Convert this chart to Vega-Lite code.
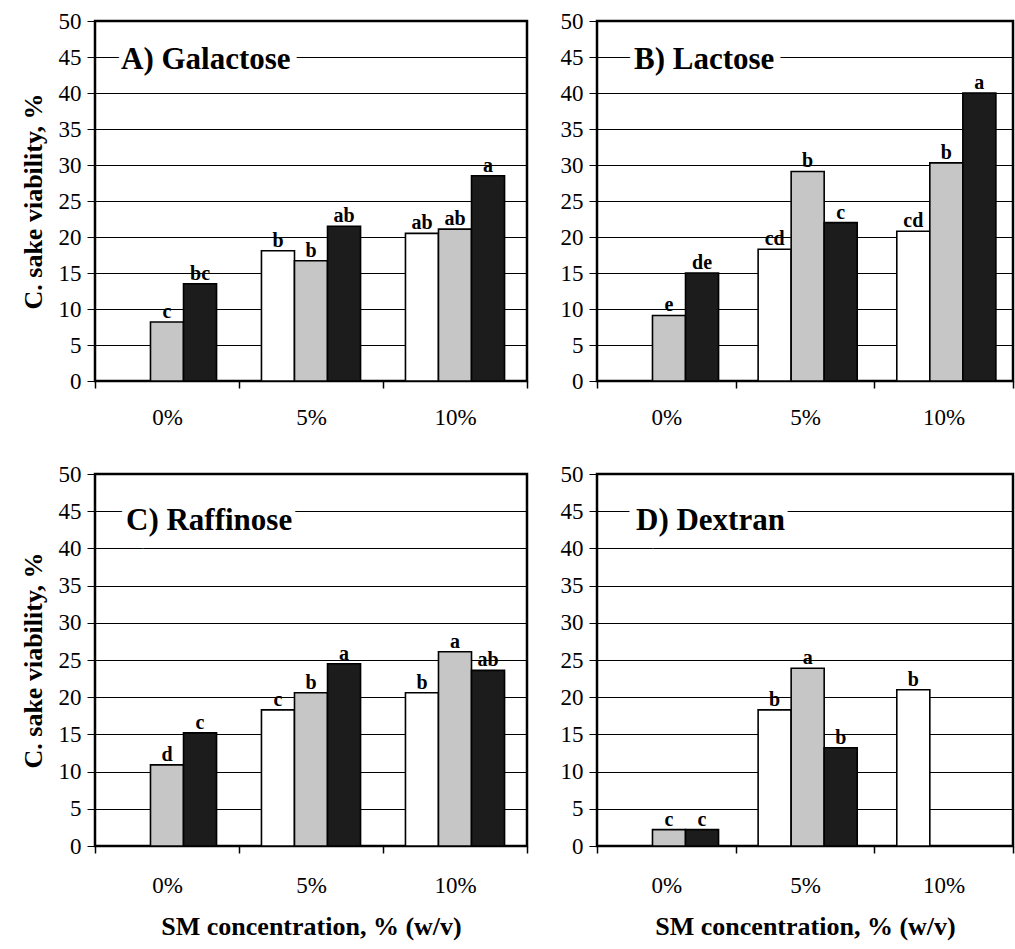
{
  "$schema": "https://vega.github.io/schema/vega-lite/v6.json",
  "padding": {"left": 18, "top": 8, "right": 0, "bottom": 0},
  "background": "white",
  "config": {
    "view": {"stroke": "black", "strokeWidth": 2.5},
    "font": "Liberation Serif, Times New Roman, DejaVu Serif, serif",
    "text": {"font": "Liberation Serif, Times New Roman, DejaVu Serif, serif"},
    "axis": {"labelFont": "Liberation Serif, Times New Roman, DejaVu Serif, serif", "titleFont": "Liberation Serif, Times New Roman, DejaVu Serif, serif", "labelColor": "black", "titleColor": "black", "tickColor": "black", "domainColor": "black", "gridColor": "black"}
  },
  "data": {"values": [
    {"panel": "A", "conc": "0%", "series": "gray", "value": 8.2, "sig": "c"},
    {"panel": "A", "conc": "0%", "series": "black", "value": 13.5, "sig": "bc"},
    {"panel": "A", "conc": "5%", "series": "white", "value": 18.1, "sig": "b"},
    {"panel": "A", "conc": "5%", "series": "gray", "value": 16.7, "sig": "b"},
    {"panel": "A", "conc": "5%", "series": "black", "value": 21.5, "sig": "ab"},
    {"panel": "A", "conc": "10%", "series": "white", "value": 20.5, "sig": "ab"},
    {"panel": "A", "conc": "10%", "series": "gray", "value": 21.1, "sig": "ab"},
    {"panel": "A", "conc": "10%", "series": "black", "value": 28.5, "sig": "a"},
    {"panel": "B", "conc": "0%", "series": "gray", "value": 9.1, "sig": "e"},
    {"panel": "B", "conc": "0%", "series": "black", "value": 15.0, "sig": "de"},
    {"panel": "B", "conc": "5%", "series": "white", "value": 18.3, "sig": "cd"},
    {"panel": "B", "conc": "5%", "series": "gray", "value": 29.1, "sig": "b"},
    {"panel": "B", "conc": "5%", "series": "black", "value": 22.0, "sig": "c"},
    {"panel": "B", "conc": "10%", "series": "white", "value": 20.8, "sig": "cd"},
    {"panel": "B", "conc": "10%", "series": "gray", "value": 30.3, "sig": "b"},
    {"panel": "B", "conc": "10%", "series": "black", "value": 40.0, "sig": "a"},
    {"panel": "C", "conc": "0%", "series": "gray", "value": 10.9, "sig": "d"},
    {"panel": "C", "conc": "0%", "series": "black", "value": 15.2, "sig": "c"},
    {"panel": "C", "conc": "5%", "series": "white", "value": 18.3, "sig": "c"},
    {"panel": "C", "conc": "5%", "series": "gray", "value": 20.6, "sig": "b"},
    {"panel": "C", "conc": "5%", "series": "black", "value": 24.5, "sig": "a"},
    {"panel": "C", "conc": "10%", "series": "white", "value": 20.6, "sig": "b"},
    {"panel": "C", "conc": "10%", "series": "gray", "value": 26.1, "sig": "a"},
    {"panel": "C", "conc": "10%", "series": "black", "value": 23.6, "sig": "ab"},
    {"panel": "D", "conc": "0%", "series": "gray", "value": 2.2, "sig": "c"},
    {"panel": "D", "conc": "0%", "series": "black", "value": 2.2, "sig": "c"},
    {"panel": "D", "conc": "5%", "series": "white", "value": 18.3, "sig": "b"},
    {"panel": "D", "conc": "5%", "series": "gray", "value": 23.9, "sig": "a"},
    {"panel": "D", "conc": "5%", "series": "black", "value": 13.2, "sig": "b"},
    {"panel": "D", "conc": "10%", "series": "white", "value": 21.0, "sig": "b"}
  ]},
  "spacing": 30,
  "vconcat": [
    {
      "spacing": 29,
      "hconcat": [
        {
          "width": 432, "height": 360,
          "layer": [
            {
              "transform": [{"filter": "datum.panel === 'A'"}],
              "mark": {"type": "bar", "stroke": "black", "strokeWidth": 1.6},
              "encoding": {
                "x": {"field": "conc", "type": "nominal", "sort": ["0%", "5%", "10%"], "scale": {"domain": ["0%", "5%", "10%"], "paddingInner": 0, "paddingOuter": 0},
                  "axis": {"title": null, "labelAngle": 0, "labelFont": "Liberation Serif", "labelFontSize": 23, "labelPadding": 18, "tickBand": "extent", "tickSize": 7, "tickWidth": 1.5, "domain": false}},
                "y": {"field": "value", "type": "quantitative", "scale": {"domain": [0, 50], "nice": false},
                  "axis": {"title": "C. sake viability, %", "tickCount": 10, "labelOverlap": false, "grid": true, "gridWidth": 1, "labelFont": "Liberation Serif", "labelFontSize": 23, "labelPadding": 6, "tickSize": 8, "domain": false, "titleFont": "Liberation Serif", "titleFontSize": 26, "titleFontWeight": "bold", "titlePadding": 12}},
                "xOffset": {"field": "series", "type": "nominal", "scale": {"domain": ["white", "gray", "black"], "paddingInner": 0, "paddingOuter": 0.68}},
                "fill": {"field": "series", "type": "nominal", "scale": {"domain": ["white", "gray", "black"], "range": ["#ffffff", "#c6c6c6", "#1c1c1c"]}, "legend": null}
              }
            },
            {
              "transform": [{"filter": "datum.panel === 'A'"}],
              "mark": {"type": "text", "fontWeight": "bold", "fontSize": 20, "baseline": "alphabetic", "dy": -4, "fill": "black"},
              "encoding": {
                "x": {"field": "conc", "type": "nominal", "sort": ["0%", "5%", "10%"]},
                "y": {"field": "value", "type": "quantitative"},
                "xOffset": {"field": "series", "type": "nominal"},
                "text": {"field": "sig"}
              }
            },
            {
              "data": {"values": [{"name": "A) Galactose"}]},
              "mark": {"type": "text", "align": "left", "baseline": "alphabetic", "dx": 26, "dy": 12, "fontSize": 31, "fontWeight": "bold", "fill": "white", "stroke": "white", "strokeWidth": 14},
              "encoding": {"x": {"datum": "0%", "bandPosition": 0}, "y": {"datum": 45}, "text": {"field": "name"}}
            },
            {
              "data": {"values": [{"name": "A) Galactose"}]},
              "mark": {"type": "text", "align": "left", "baseline": "alphabetic", "dx": 26, "dy": 12, "fontSize": 31, "fontWeight": "bold", "fill": "black"},
              "encoding": {"x": {"datum": "0%", "bandPosition": 0}, "y": {"datum": 45}, "text": {"field": "name"}}
            }
          ]
        },
        {
          "width": 416, "height": 360,
          "layer": [
            {
              "transform": [{"filter": "datum.panel === 'B'"}],
              "mark": {"type": "bar", "stroke": "black", "strokeWidth": 1.6},
              "encoding": {
                "x": {"field": "conc", "type": "nominal", "sort": ["0%", "5%", "10%"], "scale": {"domain": ["0%", "5%", "10%"], "paddingInner": 0, "paddingOuter": 0},
                  "axis": {"title": null, "labelAngle": 0, "labelFont": "Liberation Serif", "labelFontSize": 23, "labelPadding": 18, "tickBand": "extent", "tickSize": 7, "tickWidth": 1.5, "domain": false}},
                "y": {"field": "value", "type": "quantitative", "scale": {"domain": [0, 50], "nice": false},
                  "axis": {"title": null, "tickCount": 10, "labelOverlap": false, "grid": true, "gridWidth": 1, "labelFont": "Liberation Serif", "labelFontSize": 23, "labelPadding": 6, "tickSize": 8, "domain": false}},
                "xOffset": {"field": "series", "type": "nominal", "scale": {"domain": ["white", "gray", "black"], "paddingInner": 0, "paddingOuter": 0.68}},
                "fill": {"field": "series", "type": "nominal", "scale": {"domain": ["white", "gray", "black"], "range": ["#ffffff", "#c6c6c6", "#1c1c1c"]}, "legend": null}
              }
            },
            {
              "transform": [{"filter": "datum.panel === 'B'"}],
              "mark": {"type": "text", "fontWeight": "bold", "fontSize": 20, "baseline": "alphabetic", "dy": -4, "fill": "black"},
              "encoding": {
                "x": {"field": "conc", "type": "nominal", "sort": ["0%", "5%", "10%"]},
                "y": {"field": "value", "type": "quantitative"},
                "xOffset": {"field": "series", "type": "nominal"},
                "text": {"field": "sig"}
              }
            },
            {
              "data": {"values": [{"name": "B) Lactose"}]},
              "mark": {"type": "text", "align": "left", "baseline": "alphabetic", "dx": 37, "dy": 12, "fontSize": 31, "fontWeight": "bold", "fill": "white", "stroke": "white", "strokeWidth": 14},
              "encoding": {"x": {"datum": "0%", "bandPosition": 0}, "y": {"datum": 45}, "text": {"field": "name"}}
            },
            {
              "data": {"values": [{"name": "B) Lactose"}]},
              "mark": {"type": "text", "align": "left", "baseline": "alphabetic", "dx": 37, "dy": 12, "fontSize": 31, "fontWeight": "bold", "fill": "black"},
              "encoding": {"x": {"datum": "0%", "bandPosition": 0}, "y": {"datum": 45}, "text": {"field": "name"}}
            }
          ]
        }
      ]
    },
    {
      "spacing": 29,
      "hconcat": [
        {
          "width": 432, "height": 372,
          "layer": [
            {
              "transform": [{"filter": "datum.panel === 'C'"}],
              "mark": {"type": "bar", "stroke": "black", "strokeWidth": 1.6},
              "encoding": {
                "x": {"field": "conc", "type": "nominal", "sort": ["0%", "5%", "10%"], "scale": {"domain": ["0%", "5%", "10%"], "paddingInner": 0, "paddingOuter": 0},
                  "axis": {"title": "SM concentration, % (w/v)", "labelAngle": 0, "labelFont": "Liberation Serif", "labelFontSize": 23, "labelPadding": 21, "tickBand": "extent", "tickSize": 7, "tickWidth": 1.5, "domain": false, "titleFont": "Liberation Serif", "titleFontSize": 26, "titleFontWeight": "bold", "titlePadding": 16}},
                "y": {"field": "value", "type": "quantitative", "scale": {"domain": [0, 50], "nice": false},
                  "axis": {"title": "C. sake viability, %", "tickCount": 10, "labelOverlap": false, "grid": true, "gridWidth": 1, "labelFont": "Liberation Serif", "labelFontSize": 23, "labelPadding": 6, "tickSize": 8, "domain": false, "titleFont": "Liberation Serif", "titleFontSize": 26, "titleFontWeight": "bold", "titlePadding": 12}},
                "xOffset": {"field": "series", "type": "nominal", "scale": {"domain": ["white", "gray", "black"], "paddingInner": 0, "paddingOuter": 0.68}},
                "fill": {"field": "series", "type": "nominal", "scale": {"domain": ["white", "gray", "black"], "range": ["#ffffff", "#c6c6c6", "#1c1c1c"]}, "legend": null}
              }
            },
            {
              "transform": [{"filter": "datum.panel === 'C'"}],
              "mark": {"type": "text", "fontWeight": "bold", "fontSize": 20, "baseline": "alphabetic", "dy": -4, "fill": "black"},
              "encoding": {
                "x": {"field": "conc", "type": "nominal", "sort": ["0%", "5%", "10%"]},
                "y": {"field": "value", "type": "quantitative"},
                "xOffset": {"field": "series", "type": "nominal"},
                "text": {"field": "sig"}
              }
            },
            {
              "data": {"values": [{"name": "C) Raffinose"}]},
              "mark": {"type": "text", "align": "left", "baseline": "alphabetic", "dx": 31, "dy": 19, "fontSize": 31, "fontWeight": "bold", "fill": "white", "stroke": "white", "strokeWidth": 14},
              "encoding": {"x": {"datum": "0%", "bandPosition": 0}, "y": {"datum": 45}, "text": {"field": "name"}}
            },
            {
              "data": {"values": [{"name": "C) Raffinose"}]},
              "mark": {"type": "text", "align": "left", "baseline": "alphabetic", "dx": 31, "dy": 19, "fontSize": 31, "fontWeight": "bold", "fill": "black"},
              "encoding": {"x": {"datum": "0%", "bandPosition": 0}, "y": {"datum": 45}, "text": {"field": "name"}}
            }
          ]
        },
        {
          "width": 416, "height": 372,
          "layer": [
            {
              "transform": [{"filter": "datum.panel === 'D'"}],
              "mark": {"type": "bar", "stroke": "black", "strokeWidth": 1.6},
              "encoding": {
                "x": {"field": "conc", "type": "nominal", "sort": ["0%", "5%", "10%"], "scale": {"domain": ["0%", "5%", "10%"], "paddingInner": 0, "paddingOuter": 0},
                  "axis": {"title": "SM concentration, % (w/v)", "labelAngle": 0, "labelFont": "Liberation Serif", "labelFontSize": 23, "labelPadding": 21, "tickBand": "extent", "tickSize": 7, "tickWidth": 1.5, "domain": false, "titleFont": "Liberation Serif", "titleFontSize": 26, "titleFontWeight": "bold", "titlePadding": 16}},
                "y": {"field": "value", "type": "quantitative", "scale": {"domain": [0, 50], "nice": false},
                  "axis": {"title": null, "tickCount": 10, "labelOverlap": false, "grid": true, "gridWidth": 1, "labelFont": "Liberation Serif", "labelFontSize": 23, "labelPadding": 6, "tickSize": 8, "domain": false}},
                "xOffset": {"field": "series", "type": "nominal", "scale": {"domain": ["white", "gray", "black"], "paddingInner": 0, "paddingOuter": 0.68}},
                "fill": {"field": "series", "type": "nominal", "scale": {"domain": ["white", "gray", "black"], "range": ["#ffffff", "#c6c6c6", "#1c1c1c"]}, "legend": null}
              }
            },
            {
              "transform": [{"filter": "datum.panel === 'D'"}],
              "mark": {"type": "text", "fontWeight": "bold", "fontSize": 20, "baseline": "alphabetic", "dy": -4, "fill": "black"},
              "encoding": {
                "x": {"field": "conc", "type": "nominal", "sort": ["0%", "5%", "10%"]},
                "y": {"field": "value", "type": "quantitative"},
                "xOffset": {"field": "series", "type": "nominal"},
                "text": {"field": "sig"}
              }
            },
            {
              "data": {"values": [{"name": "D) Dextran"}]},
              "mark": {"type": "text", "align": "left", "baseline": "alphabetic", "dx": 39, "dy": 19, "fontSize": 31, "fontWeight": "bold", "fill": "white", "stroke": "white", "strokeWidth": 14},
              "encoding": {"x": {"datum": "0%", "bandPosition": 0}, "y": {"datum": 45}, "text": {"field": "name"}}
            },
            {
              "data": {"values": [{"name": "D) Dextran"}]},
              "mark": {"type": "text", "align": "left", "baseline": "alphabetic", "dx": 39, "dy": 19, "fontSize": 31, "fontWeight": "bold", "fill": "black"},
              "encoding": {"x": {"datum": "0%", "bandPosition": 0}, "y": {"datum": 45}, "text": {"field": "name"}}
            }
          ]
        }
      ]
    }
  ]
}
